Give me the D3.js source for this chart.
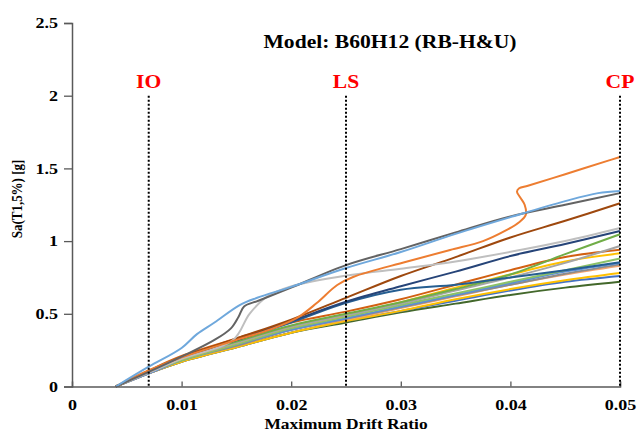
<!DOCTYPE html>
<html>
<head>
<meta charset="utf-8">
<script src="https://cdn.jsdelivr.net/npm/d3@7"></script>
<style>
  body { margin: 0; background: #fff; }
  text { font-family: "Liberation Serif", "Times New Roman", serif; }
</style>
</head>
<body>
<script>
let margin = {top: 23, right: 17, bottom: 45.5, left: 72}
let width = 637 - margin.left - margin.right
let height = 432 - margin.top - margin.bottom
let stretch = 1.2   // the source picture is a bit wider than tall, text looks stretched

// common drift grid for the lower bundle of IDA curves
const driftGrid = [0.004, 0.007, 0.01, 0.015, 0.02, 0.025, 0.03, 0.035, 0.04, 0.045, 0.05]
const saDarkOrange = [0, 0.11, 0.21, 0.33, 0.44, 0.515, 0.60, 0.70, 0.80, 0.89, 0.94]
const saGreen      = [0, 0.10, 0.20, 0.31, 0.42, 0.50, 0.58, 0.67, 0.77, 0.91, 1.047]
const saGray       = [0, 0.10, 0.19, 0.30, 0.41, 0.49, 0.57, 0.66, 0.75, 0.85, 0.966]
const saGold       = [0, 0.10, 0.19, 0.30, 0.41, 0.49, 0.58, 0.68, 0.77, 0.86, 0.916]
const saLightGreen = [0, 0.10, 0.18, 0.29, 0.40, 0.48, 0.56, 0.64, 0.72, 0.80, 0.88]
const saBlue       = [0, 0.09, 0.18, 0.29, 0.39, 0.47, 0.55, 0.63, 0.71, 0.79, 0.85]
const saGray2      = [0, 0.09, 0.18, 0.28, 0.39, 0.465, 0.545, 0.625, 0.70, 0.775, 0.84]
const saLightOrange= [0, 0.09, 0.18, 0.28, 0.39, 0.46, 0.54, 0.62, 0.70, 0.77, 0.83]
const saGold2      = [0, 0.09, 0.17, 0.27, 0.37, 0.45, 0.52, 0.60, 0.67, 0.73, 0.78]
const saBlue2      = [0, 0.09, 0.17, 0.27, 0.37, 0.45, 0.52, 0.59, 0.66, 0.72, 0.76]
const saDarkGreen  = [0, 0.09, 0.17, 0.27, 0.37, 0.44, 0.51, 0.57, 0.63, 0.68, 0.72]
const saMidBlue    = [0, 0.10, 0.20, 0.32, 0.44, 0.575, 0.665, 0.70, 0.75, 0.80, 0.855]
const saNavy       = [0, 0.10, 0.20, 0.32, 0.45, 0.583, 0.69, 0.79, 0.897, 0.98, 1.07]
const saBrown      = [0, 0.10, 0.20, 0.33, 0.46, 0.61, 0.76, 0.89, 1.025, 1.14, 1.26]

// upper curves with their own drift points
const driftLightBlue = [0.004, 0.007, 0.01, 0.0114, 0.013, 0.0153, 0.0169, 0.02, 0.025, 0.03, 0.035, 0.04, 0.045, 0.048, 0.05]
const saLightBlue    = [0, 0.136, 0.265, 0.36, 0.44, 0.56, 0.61, 0.685, 0.815, 0.925, 1.05, 1.165, 1.275, 1.33, 1.345]
const driftDarkGray  = [0.004, 0.007, 0.01, 0.013, 0.0145, 0.0152, 0.0157, 0.017, 0.02, 0.025, 0.03, 0.035, 0.04, 0.045, 0.05]
const saDarkGray     = [0, 0.10, 0.205, 0.32, 0.40, 0.48, 0.55, 0.59, 0.68, 0.835, 0.945, 1.06, 1.17, 1.25, 1.33]
const driftLightGray = [0.004, 0.007, 0.01, 0.0147, 0.0162, 0.0178, 0.0199, 0.0254, 0.03, 0.035, 0.041, 0.045, 0.05]
const saLightGray    = [0, 0.095, 0.19, 0.32, 0.50, 0.618, 0.686, 0.767, 0.81, 0.86, 0.94, 1.0, 1.09]
const driftOrange    = [0.004, 0.007, 0.01, 0.015, 0.018, 0.0205, 0.0223, 0.0242, 0.0257, 0.0305, 0.0345, 0.0375, 0.0395, 0.0408, 0.0414, 0.0413, 0.0409, 0.0406, 0.0408, 0.0416, 0.045, 0.049, 0.05]
const saOrange       = [0, 0.11, 0.20, 0.32, 0.39, 0.47, 0.572, 0.698, 0.755, 0.858, 0.939, 1.0, 1.07, 1.13, 1.18, 1.25, 1.30, 1.34, 1.363, 1.381, 1.46, 1.555, 1.578]

const yTicks = [0, 0.5, 1, 1.5, 2, 2.5]
const xTicks = [0, 0.01, 0.02, 0.03, 0.04, 0.05]
const limitNames = ["IO", "LS", "CP"]
const limitDrifts = [0.007, 0.025, 0.05]

let zip = (xs, ys) => xs.map((x, i) => [x, ys[i]])

let series = [
    {color: "#43682B", pts: zip(driftGrid, saDarkGreen)},
    {color: "#4472C4", pts: zip(driftGrid, saBlue2)},
    {color: "#FFC000", pts: zip(driftGrid, saGold2)},
    {color: "#F4A46E", pts: zip(driftGrid, saLightOrange)},
    {color: "#8C8C8C", pts: zip(driftGrid, saGray2)},
    {color: "#5B8ED6", pts: zip(driftGrid, saBlue)},
    {color: "#8CC168", pts: zip(driftGrid, saLightGreen)},
    {color: "#FFC000", pts: zip(driftGrid, saGold)},
    {color: "#D26012", pts: zip(driftGrid, saDarkOrange)},
    {color: "#A5A5A5", pts: zip(driftGrid, saGray)},
    {color: "#70AD47", pts: zip(driftGrid, saGreen)},
    {color: "#255E91", pts: zip(driftGrid, saMidBlue)},
    {color: "#264478", pts: zip(driftGrid, saNavy)},
    {color: "#9E480E", pts: zip(driftGrid, saBrown)},
    {color: "#BFBFBF", pts: zip(driftLightGray, saLightGray)},
    {color: "#ED7D31", pts: zip(driftOrange, saOrange)},
    {color: "#636363", pts: zip(driftDarkGray, saDarkGray)},
    {color: "#6FA8DC", pts: zip(driftLightBlue, saLightBlue)}
]

let svg = d3.select("body").append("svg")
    .attr("width", width + margin.left + margin.right)
    .attr("height", height + margin.top + margin.bottom)
let g = svg.append("g").attr("transform", "translate(" + margin.left + "," + margin.top + ")")

let x = d3.scaleLinear().domain([0, 0.05]).range([0, width])
let y = d3.scaleLinear().domain([0, 2.5]).range([height, 0])

let line = d3.line()
    .x(d => x(d[0]))
    .y(d => y(d[1]))
    .curve(d3.curveCatmullRom.alpha(0.5))

g.selectAll(".ida").data(series).enter()
    .append("path")
    .attr("class", "ida")
    .attr("d", d => line(d.pts))
    .attr("fill", "none")
    .attr("stroke", d => d.color)
    .attr("stroke-width", 2)

// axes
let yAxis = g.append("g")
    .call(d3.axisLeft(y).tickValues(yTicks).tickFormat(d3.format("")).tickSize(8).tickPadding(6))
let xAxis = g.append("g")
    .attr("transform", "translate(0," + height + ")")
    .call(d3.axisBottom(x).tickValues(xTicks).tickFormat(d => d === 0 ? "0" : d3.format(".2f")(d)).tickSize(-5).tickPadding(13))
xAxis.selectAll(".tick").filter(d => d === 0).select("line").remove()

for (let ax of [yAxis, xAxis]) {
    ax.select(".domain").attr("stroke", "#595959").attr("stroke-width", 1.5)
    ax.selectAll(".tick line").attr("stroke", "#595959").attr("stroke-width", 1.3)
    ax.selectAll(".tick text")
        .attr("fill", "#000")
        .attr("transform", "scale(" + stretch + ",1)")
        .style("font-family", "'Liberation Serif', serif")
        .style("font-weight", "bold")
        .style("font-size", "15px")
}
yAxis.selectAll(".tick text").attr("x", -14 / stretch)

// limit-state lines
g.selectAll(".limit").data(limitDrifts).enter()
    .append("line")
    .attr("x1", d => x(d)).attr("x2", d => x(d))
    .attr("y1", y(2)).attr("y2", y(0))
    .attr("stroke", "#000")
    .attr("stroke-width", 2)
    .attr("stroke-dasharray", "2,2")

g.selectAll(".limitLabel").data(limitNames).enter()
    .append("text")
    .attr("transform", (d, i) => "translate(" + x(limitDrifts[i]) + "," + (y(2) - 8) + ") scale(" + stretch + ",1)")
    .attr("text-anchor", "middle")
    .attr("fill", "#FF0000")
    .style("font-weight", "bold")
    .style("font-size", "18px")
    .text(d => d)

// title and axis titles
svg.append("text")
    .attr("transform", "translate(390,48) scale(" + stretch + ",1)")
    .attr("text-anchor", "middle")
    .style("font-weight", "bold")
    .style("font-size", "18px")
    .text("Model: B60H12 (RB-H&U)")

svg.append("text")
    .attr("transform", "translate(" + (margin.left + width / 2) + ",429) scale(" + stretch + ",1)")
    .attr("text-anchor", "middle")
    .style("font-weight", "bold")
    .style("font-size", "14.5px")
    .text("Maximum Drift Ratio")

svg.append("text")
    .attr("transform", "translate(22,199) rotate(-90) scale(1," + stretch + ")")
    .attr("text-anchor", "middle")
    .style("font-weight", "bold")
    .style("font-size", "13px")
    .text("Sa(T1,5%) [g]")
</script>
</body>
</html>
